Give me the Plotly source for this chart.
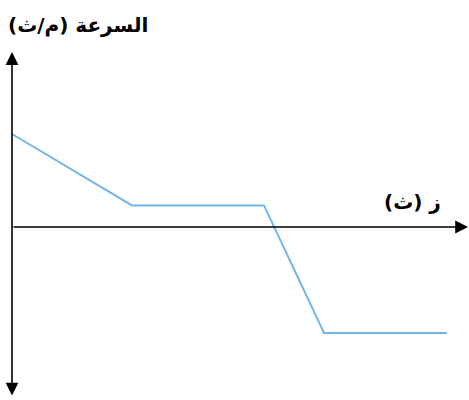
import plotly.graph_objects as go

# Data (time in s, speed in m/s)
time_s = [0, 4, 8.4, 10.4, 14.5]
speed = [3.1, 0.72, 0.72, -3.53, -3.53]

y_label = "السرعة (م/ث)"
x_label = "ز (ث)"

fig = go.Figure()
fig.add_trace(go.Scatter(x=time_s, y=speed, mode="lines",
                         line=dict(color="#74b5e8", width=2), hoverinfo="skip"))

# y axis (double headed)
fig.add_annotation(x=0, y=5.83, ax=0, ay=-5.67, xref="x", yref="y", axref="x", ayref="y",
                   text="", showarrow=True, arrowhead=2, arrowside="end+start",
                   arrowsize=1.6, arrowwidth=1.6, arrowcolor="black")
# x axis
fig.add_annotation(x=15.2, y=0, ax=0, ay=0, xref="x", yref="y", axref="x", ayref="y",
                   text="", showarrow=True, arrowhead=2, arrowsize=1.6,
                   arrowwidth=1.6, arrowcolor="black")

fig.add_annotation(x=-0.2, y=6.75, xref="x", yref="y", text="<b>" + y_label + "</b>",
                   showarrow=False, xanchor="left", yanchor="middle",
                   font=dict(family="DejaVu Sans", size=20, color="black"))
fig.add_annotation(x=14.35, y=0.85, xref="x", yref="y", text="<b>" + x_label + "</b>",
                   showarrow=False, xanchor="right", yanchor="middle",
                   font=dict(family="DejaVu Sans", size=20, color="black"))

fig.update_layout(width=469, height=400, margin=dict(l=0, r=0, t=0, b=0),
                  plot_bgcolor="white", paper_bgcolor="white", showlegend=False,
                  xaxis=dict(range=[-0.4, 15.233], visible=False),
                  yaxis=dict(range=[-5.767, 7.567], visible=False))
fig.write_html("out.html", config={"displayModeBar": False},
               post_script="document.body.style.margin='0';")
